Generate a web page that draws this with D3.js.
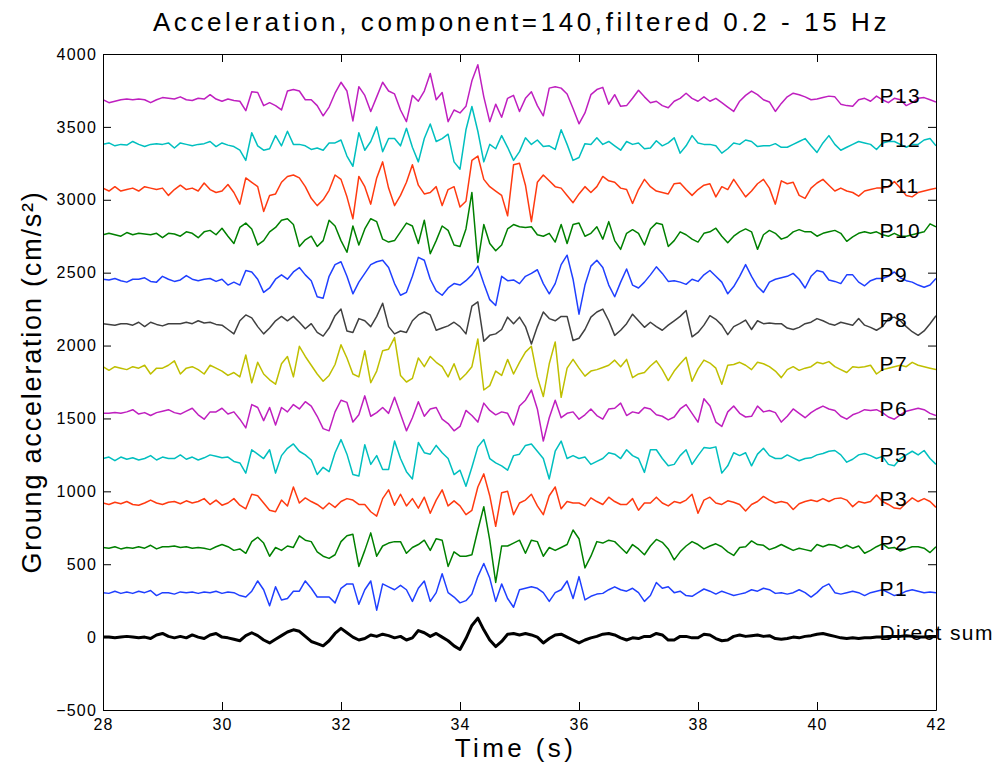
<!DOCTYPE html>
<html>
<head>
<meta charset="utf-8">
<script src="https://cdn.jsdelivr.net/npm/d3@7"></script>
<style>
  html, body { margin: 0; padding: 0; background: #fff; }
  svg { display: block; }
  text { font-family: "Liberation Sans", Arial, Helvetica, sans-serif; fill: #000; }
</style>
</head>
<body>
<svg id="chart" width="1003" height="768"></svg>
<script>
// ---------------- DATA ----------------
const title = "Acceleration, component=140,filtered 0.2 - 15 Hz";
const xLabel = "Time (s)";
const yLabel = "Groung acceleration (cm/s²)";
const xTicks = [28, 30, 32, 34, 36, 38, 40, 42];
const yTicks = [-500, 0, 500, 1000, 1500, 2000, 2500, 3000, 3500, 4000];
const tStart = 28, tStep = 0.1;   // sample grid (s)

const stations = ["Direct sum", "P1", "P2", "P3", "P5", "P6", "P7", "P8", "P9", "P10", "P11", "P12", "P13"];
const offsets  = [0, 305, 615, 920, 1225, 1535, 1845, 2150, 2455, 2760, 3070, 3380, 3686];

// deviations from each trace's offset (cm/s^2), one value every 0.1 s from 28 s to 42 s
const directSum = [0,0,-5,0,5,0,-5,0,-10,15, 25,5,-5,5,-5,15,0,-10,15,25, 0,-5,-15,-25,10,30,10,-20,-40,-15, 10,35,50,40,
  5,-30,-45,-60,-25,25,60,30,0,-20, -10,15,5,20,10,-5,5,-20,-5,45, 30,5,25,0,-25,-60,-85,-10,80,130, 50,-20,-65,-30,
  20,25,15,25,15,0,-40,-10,15,20, 0,-20,-40,-20,-5,5,20,25,15,-5, -20,-5,-10,5,5,25,15,-20,-20,5, 5,-5,-5,20,
  15,-10,-25,-20,5,15,5,10,15,5, 10,-10,-15,-10,0,-5,5,10,20,25, 15,5,-5,-10,-5,-10,-5,-5,0,0, 5,5,5,10,5,0,0,5,5];
const p1 = [0,-5,10,-5,5,-5,10,0,15,-20, 0,0,-10,5,0,5,-5,5,0,10, -5,5,0,-20,-30,10,80,20,-90,40, -50,-40,10,10,
  80,30,-30,-30,-30,-70,30,60,60,-80, 20,80,-120,60,40,20,50,20,-60,30, 80,-60,0,130,0,-30,-70,-55,-10,110, 200,100,-60,60,
  -40,-100,20,30,40,30,0,-60,0,20, 80,-40,110,-50,-25,-10,-5,20,40,20, 10,30,0,-60,-20,70,30,40,0,10, -20,-25,0,25,
  10,-10,10,-5,-20,-10,0,20,10,30, 20,-5,0,-10,0,20,0,-30,0,40, 60,0,-10,0,10,0,-20,0,10,20, 0,-20,-10,10,20,10,0,5,0];
const p2 = [0,-5,5,-10,0,-5,5,-5,15,-10, 5,5,10,0,5,-5,0,-5,-15,5, 20,5,-20,-10,-40,40,70,30,-60,0, -20,10,0,80,
  50,40,-30,-60,-75,-50,40,80,90,-130, -20,100,-60,10,30,40,40,-40,0,20, 50,-20,60,50,-130,-30,-60,-60,-50,120, 280,50,-240,10,
  10,30,50,-40,50,40,-60,0,-20,0, 20,120,60,-140,-60,40,30,50,40,0, -40,20,-10,-50,10,55,35,-10,-85,-30, 10,40,20,-10,
  10,25,5,-30,-55,0,5,45,20,15, -15,0,20,0,-20,-5,-15,-25,20,5, 20,15,-5,15,-5,10,-40,-20,5,25, -5,0,-25,-10,5,5,-5,-35,5];
const p3 = [0,-10,5,-5,10,-10,-15,0,20,0, -10,5,10,-5,15,0,10,30,-10,20, -15,0,30,-15,-40,60,50,0,-50,-60, 20,-20,110,0,
  35,10,-10,-40,0,-30,10,30,20,-10, -10,-60,-90,30,90,-15,60,-20,30,-35, 40,-70,20,90,-20,15,-20,-80,-50,110, 200,50,-160,70,
  80,-80,0,20,60,-20,-80,50,110,-40, 10,0,0,-20,35,10,-10,40,10,-10, -10,30,-50,0,0,40,0,-20,10,0, 20,60,-70,20,
  40,0,-10,15,5,-10,-55,-10,10,45, 20,0,10,0,-45,-5,10,20,10,30, 10,30,35,20,-25,10,0,10,55,10, -10,-35,-40,0,35,10,30,10,-30];
const p5 = [0,10,-15,10,-5,5,-10,0,20,-10, 10,0,0,25,-5,10,-10,5,25,15, 5,10,-20,-30,-100,60,30,0,60,-100, 20,70,100,50,
  25,-10,-110,-60,-90,40,130,30,-110,-120, 95,-40,20,-75,-75,120,0,-90,-140,110, 40,30,90,40,0,-110,-80,-190,-60,80, 130,0,-30,-50,
  -80,20,30,90,100,50,0,-140,50,120, 0,20,0,10,-40,-20,0,40,30,0, 60,20,0,-95,60,60,0,-50,-40,20, 60,-40,20,75,
  70,80,-100,-50,40,20,40,-50,30,70, 20,0,0,25,5,-15,0,5,25,35, 50,55,25,-25,-5,25,35,20,0,15, -40,-50,0,25,50,25,55,0,-40];
const p6 = [0,0,5,0,10,25,-5,5,-15,5, 15,25,5,-5,15,35,-10,-40,10,10, 35,-5,10,-40,-100,60,40,-50,40,-80, 40,10,60,30,
  80,50,-20,-105,-120,10,90,75,-60,-10, 120,-20,5,40,0,110,-5,-120,-30,80, -20,30,40,-40,-70,-120,-90,20,-15,-60, 70,20,-10,10,
  0,-80,50,90,160,30,-190,-30,90,-30, 0,10,-40,-10,30,-15,-40,30,35,70, -15,10,0,40,30,-10,-20,-45,-25,30, 60,0,-60,100,
  50,-60,-90,10,50,0,-25,-20,50,10, 20,5,-60,-20,30,0,-30,5,30,50, 30,20,-20,-40,-10,5,25,20,25,5, -25,-40,-10,15,25,35,25,0,-15];
const p7 = [10,-15,10,0,-10,10,0,20,-40,0, 0,20,50,-40,0,10,-10,-40,20,0, -20,-50,-30,-60,90,-100,40,-40,-80,-110, 30,80,-60,150,
  80,20,-40,-90,-50,25,160,70,-40,-60, 120,-100,-20,120,130,210,-50,-95,-70,70, 10,80,40,10,-60,30,-80,-40,10,200, -150,-120,-20,-50,
  60,-40,40,110,150,-60,-195,30,180,-200, 0,60,0,-55,-20,-10,5,20,55,10, 60,-65,-40,-30,15,50,-10,-85,-20,30, 75,-90,-5,55,
  35,0,-110,20,25,40,20,-10,40,30, 10,-20,-65,-10,10,-15,0,10,40,30, 45,10,-10,-30,10,5,10,20,-40,-10, 0,10,20,10,40,20,10,0,-10];
const p8 = [0,-5,-10,0,0,-10,10,-20,10,-5, -15,0,0,0,10,0,20,5,10,-5, -10,-40,-70,20,60,40,-20,-70,-30,20, 50,20,50,10,
  -35,0,-60,-85,-30,55,100,-50,-60,35, 20,-20,50,140,-20,-70,-50,-60,20,60, 80,60,-45,-30,-15,10,-20,-70,120,150, -120,-80,-70,-40,
  45,0,45,-20,-140,-20,80,35,20,50, 50,-115,-100,-40,45,80,100,20,-80,-45, 0,65,20,-25,10,-20,-45,-10,20,50, 90,-90,-60,-10,
  55,30,-10,-75,-20,0,25,-40,20,0, 5,0,0,-30,-40,-25,0,10,35,20, 0,-10,10,0,-10,35,-10,-25,-45,-20, 35,45,20,-20,-55,-80,-50,0,55];
const p9 = [0,-5,5,-10,-20,0,0,10,-15,-20, 20,0,-15,-5,25,0,-10,0,5,-15, 0,-40,-20,-40,60,50,0,-90,-60,0, 30,0,50,80,
  30,-10,-120,-130,20,100,120,20,-100,-20, 40,100,120,130,80,-30,-110,-90,20,150, 130,0,-80,-110,-60,-30,-40,-10,30,90, -30,-140,-180,20,
  -10,-5,-30,20,40,65,-30,-100,-30,100, 165,0,-240,-40,90,130,80,-40,-120,-20, 70,-40,-60,-20,30,85,40,-15,-10,-20, -35,0,-15,30,
  60,20,-20,-100,-50,20,100,20,-50,-90, -20,0,10,20,40,0,-60,20,60,50, -5,-15,-30,30,30,-20,-45,-10,5,5, 20,50,10,-10,-20,-40,-55,-40,5];
const p10 = [0,10,0,-10,15,0,10,5,0,10, -20,10,5,-10,20,10,-20,20,30,0, 45,-10,-60,50,80,40,-70,-40,20,50, 100,110,70,-80,
  -35,-10,-80,-40,100,60,-40,-120,60,-70, 40,110,90,-30,-50,-40,20,80,60,-60, 100,-130,-40,60,30,-70,-80,40,290,-190, 70,-60,-110,-70,
  40,70,55,50,55,0,-10,10,-50,70, -60,70,80,-10,10,55,-30,90,-40,-100, 10,35,10,-70,40,80,70,-80,-40,20, 0,-30,-50,10,
  20,45,-10,-55,-10,20,40,20,-100,0, 30,10,-30,-15,20,35,20,20,-10,10, 20,30,10,-45,-15,10,20,10,20,0, -10,10,-10,-10,0,10,20,75,55];
const p11 = [10,-10,20,-10,0,10,-10,20,10,0, 10,-40,0,30,0,10,-10,45,0,-20, -10,35,-20,-100,80,50,20,-150,-40,-30, 50,90,100,80,
  20,-60,-110,-70,-5,100,70,-50,-200,90, 20,-100,80,190,10,-110,-40,50,170,30, -30,-20,20,-110,0,20,-120,-80,200,230, 70,20,-10,-40,
  -180,170,180,30,-220,50,100,60,20,10, -40,-90,-30,20,-20,20,90,60,50,10, 0,-95,0,70,20,-10,-20,-30,40,45, 0,-40,0,30,
  40,-50,20,0,70,10,-50,-10,40,70, 10,-100,60,40,50,-40,-60,10,45,70, 30,-10,10,-10,-20,-45,-10,0,10,10, 20,55,10,-40,-50,-20,-10,0,10];
const p12 = [0,10,-10,0,-5,20,0,-15,0,5, 0,10,-25,10,0,-10,0,5,20,-15, 10,-5,-15,-40,-110,80,-10,-40,-30,60, -10,90,0,0,
  -10,-35,-25,-40,10,10,30,-80,-150,80, -40,20,120,-50,40,40,-10,110,-20,-120, 40,140,20,40,70,-120,-170,100,260,90, -120,0,-30,60,
  -20,-110,-50,45,0,30,-15,-10,-35,100, 0,-110,-90,5,0,45,0,20,-10,-40, 20,0,10,-30,-25,25,-10,10,45,-60, -10,60,10,0,
  0,-10,-60,-30,10,0,30,20,-15,-10, -10,5,-20,-20,0,20,40,-10,-55,10, 60,0,-40,-20,0,20,10,0,-35,10, 20,20,0,-20,0,0,30,40,-10];
const p13 = [0,-20,-10,0,5,0,5,0,-20,0, 15,10,5,20,0,-5,10,5,35,5, -10,5,-5,-10,-75,55,50,-40,-20,-40, -70,60,70,60,
  0,0,-40,-110,-50,45,120,60,-145,90, 30,-80,20,120,60,40,-70,-150,30,-10, 60,180,0,50,-150,-70,-90,-45,130,240, 20,-150,-30,-120,
  10,30,-80,10,55,-40,-110,80,90,80, 40,-60,-165,-90,35,70,85,-30,35,-45, -40,10,65,20,-20,-10,-40,-55,-10,10, 45,10,-10,20,
  -10,10,-20,-50,-80,-10,30,60,35,0, -15,-80,-25,20,45,35,20,0,5,15, 25,20,-30,-40,-45,0,10,-10,25,0, -20,10,0,-40,-20,10,15,0,-15];

const series = [directSum, p1, p2, p3, p5, p6, p7, p8, p9, p10, p11, p12, p13];

// ---------------- STYLE ----------------
const colors = ["#000000", "#1f3fff", "#008000", "#ff3a10", "#00bfbf", "#bf1fbf", "#bfbf00",
                "#404040", "#1f3fff", "#008000", "#ff3a10", "#00bfbf", "#bf1fbf"];
const widths = [3, 1.5, 1.5, 1.5, 1.5, 1.5, 1.5, 1.5, 1.5, 1.5, 1.5, 1.5, 1.5];

// ---------------- DRAW ----------------
const svg = d3.select("#chart");
const W = 1003, H = 768;
const m = { left: 103, right: 67, top: 54, bottom: 58 };
const iw = W - m.left - m.right, ih = H - m.top - m.bottom;

svg.append("rect").attr("width", W).attr("height", H).attr("fill", "#fff");

const x = d3.scaleLinear().domain([28, 42]).range([m.left, m.left + iw]);
const y = d3.scaleLinear().domain([-500, 4000]).range([m.top + ih, m.top]);

svg.append("defs").append("clipPath").attr("id", "clip")
  .append("rect").attr("x", m.left).attr("y", m.top).attr("width", iw).attr("height", ih);

const g = svg.append("g").attr("clip-path", "url(#clip)");
series.forEach((s, i) => {
  const line = d3.line()
    .x((d, k) => x(tStart + k * tStep))
    .y(d => y(offsets[i] + d));
  g.append("path")
    .datum(s)
    .attr("fill", "none")
    .attr("stroke", colors[i])
    .attr("stroke-width", widths[i])
    .attr("stroke-linejoin", "round")
    .attr("d", line);
});

// Axes (MATLAB style: inward ticks on all sides, box)
const tickLen = 8;
const axB = svg.append("g").attr("transform", `translate(0,${m.top + ih})`)
  .call(d3.axisBottom(x).tickValues(xTicks).tickSizeInner(-tickLen).tickSizeOuter(0).tickPadding(9).tickFormat(d3.format("d")));
const axT = svg.append("g").attr("transform", `translate(0,${m.top})`)
  .call(d3.axisTop(x).tickValues(xTicks).tickSizeInner(-tickLen).tickSizeOuter(0).tickFormat(""));
const axL = svg.append("g").attr("transform", `translate(${m.left},0)`)
  .call(d3.axisLeft(y).tickValues(yTicks).tickSizeInner(-tickLen).tickSizeOuter(0).tickPadding(6).tickFormat(d3.format("d")));
const axR = svg.append("g").attr("transform", `translate(${m.left + iw},0)`)
  .call(d3.axisRight(y).tickValues(yTicks).tickSizeInner(-tickLen).tickSizeOuter(0).tickFormat(""));

[axB, axT, axL, axR].forEach(a => {
  a.select(".domain").attr("stroke", "#000").attr("stroke-width", 1);
  a.selectAll(".tick line").attr("stroke", "#000").attr("stroke-width", 1);
  a.selectAll(".tick text").attr("font-size", 16).attr("font-family", "Liberation Sans, Arial, sans-serif")
    .attr("fill", "#000").style("letter-spacing", "1.2px");
});

// Station labels
stations.forEach((name, i) => {
  svg.append("text")
    .attr("x", x(41.05))
    .attr("y", y(offsets[i]) + 3)
    .attr("font-size", 21)
    .style("letter-spacing", "1.4px")
    .text(name);
});

// Title and axis labels
svg.append("text")
  .attr("x", m.left + iw / 2 + 2).attr("y", 31)
  .attr("text-anchor", "middle").attr("font-size", 26)
  .style("letter-spacing", "3.6px")
  .text(title);

svg.append("text")
  .attr("x", m.left + iw / 2 - 4).attr("y", 757)
  .attr("text-anchor", "middle").attr("font-size", 26)
  .style("letter-spacing", "3.4px")
  .text(xLabel);

svg.append("text")
  .attr("transform", `translate(41,${y(1750)}) rotate(-90)`)
  .attr("text-anchor", "middle").attr("font-size", 27)
  .style("letter-spacing", "1.8px")
  .text(yLabel);
</script>
</body>
</html>
